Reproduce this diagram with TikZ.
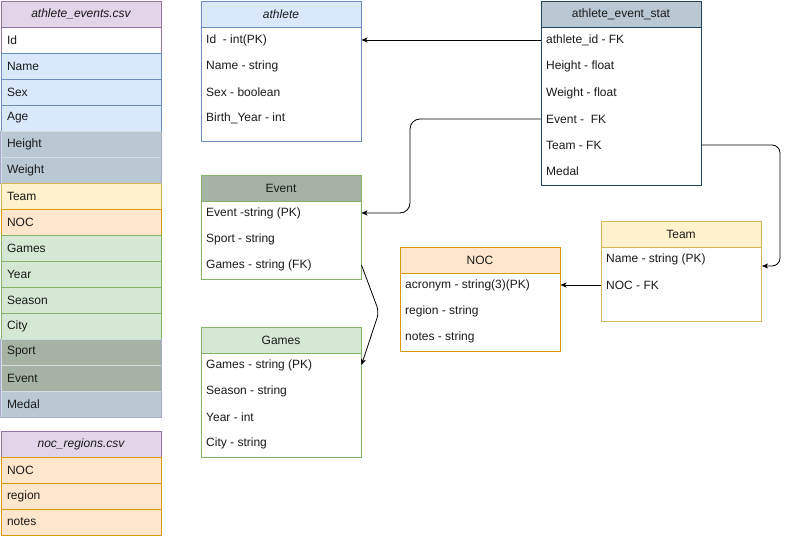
\documentclass[tikz,border=0pt]{standalone}
\usepackage{fontspec}
\setmainfont{Liberation Sans}
\usetikzlibrary{arrows.meta}

% palette
\definecolor{lilacF}{HTML}{E1D5E7}\definecolor{lilacS}{HTML}{9673A6}
\definecolor{blueF}{HTML}{DAE8FC}\definecolor{blueS}{HTML}{6C8EBF}
\definecolor{slateF}{HTML}{BAC8D3}\definecolor{slateS}{HTML}{23445D}
\definecolor{slateL}{HTML}{A9A9CC}\definecolor{sepL}{HTML}{D4DCE3}
\definecolor{sageF}{HTML}{A5B3A4}
\definecolor{yellowF}{HTML}{FFF2CC}\definecolor{yellowS}{HTML}{D6B656}
\definecolor{orangeF}{HTML}{FFE6CC}\definecolor{orangeS}{HTML}{D79B00}
\definecolor{greenF}{HTML}{D5E8D4}\definecolor{greenS}{HTML}{82B366}
\definecolor{ink}{HTML}{1A1A1A}

\begin{document}
\begin{tikzpicture}[x=1pt,y=-1pt,
  every node/.style={font=\fontsize{12}{14}\selectfont, text=ink},
  field/.style={draw, line width=1pt, anchor=north west, minimum width=160pt,
    minimum height=26pt, text width=148pt, inner xsep=6pt, inner ysep=0pt,
    align=left},
  head/.style={field, align=center},
  body/.style={draw, line width=1pt, anchor=north west, minimum width=160pt,
    fill=white, inner sep=0pt},
  entry/.style={anchor=west, inner sep=0pt},
  edge/.style={draw=slateL, line width=1pt},
  link/.style={draw=black, line width=0.8pt, -{Stealth[length=6pt,width=5pt,inset=1.5pt]}}]
\useasboundingbox (0,0) rectangle (789,538);

% ---------- athlete_events.csv ----------
\node[head, fill=lilacF, draw=lilacS, font=\fontsize{12}{14}\selectfont\itshape] (csvHead) at (0.5,0.5) {athlete\_events.csv};
\node[field, fill=white, draw=lilacS]   (csvId)     at (0.5,26.5)  {Id};
\node[field, fill=blueF, draw=blueS]    (csvName)   at (0.5,52.5)  {Name};
\node[field, fill=blueF, draw=blueS]    (csvSex)    at (0.5,78.5)  {Sex};
\node[field, fill=blueF, draw=blueS]    (csvAge)    at (0.5,104.5) {Age};
\node[field, fill=slateF, draw=sepL]    (csvHeight) at (0.5,130.5) {Height};
\node[field, fill=slateF, draw=sepL]    (csvWeight) at (0.5,156.5) {Weight};
\node[field, fill=yellowF, draw=yellowS](csvTeam)   at (0.5,182.5) {Team};
\node[field, fill=orangeF, draw=orangeS](csvNOC)    at (0.5,208.5) {NOC};
\node[field, fill=greenF, draw=greenS]  (csvGames)  at (0.5,234.5) {Games};
\node[field, fill=greenF, draw=greenS]  (csvYear)   at (0.5,260.5) {Year};
\node[field, fill=greenF, draw=greenS]  (csvSeason) at (0.5,286.5) {Season};
\node[field, fill=greenF, draw=greenS]  (csvCity)   at (0.5,312.5) {City};
\node[field, fill=sageF, draw=sepL]     (csvSport)  at (0.5,338.5) {Sport};
\node[field, fill=sageF, draw=sepL]     (csvEvent)  at (0.5,364.5) {Event};
\node[field, fill=slateF, draw=sepL]    (csvMedal)  at (0.5,390.5) {Medal};
% outer edges of the grey rows
\draw[edge] (csvHeight.north west) -- (csvWeight.south west)
            (csvHeight.north east) -- (csvWeight.south east);
\draw[edge] (csvSport.north west) -- (csvMedal.south west) -- (csvMedal.south east) -- (csvSport.north east);

% ---------- noc_regions.csv ----------
\node[head, fill=lilacF, draw=lilacS, font=\fontsize{12}{14}\selectfont\itshape] (regHead) at (0.5,430.5) {noc\_regions.csv};
\node[field, fill=orangeF, draw=orangeS] (regNOC)    at (0.5,456.5) {NOC};
\node[field, fill=orangeF, draw=orangeS] (regRegion) at (0.5,482.5) {region};
\node[field, fill=orangeF, draw=orangeS] (regNotes)  at (0.5,508.5) {notes};

% ---------- athlete ----------
\node[body, draw=blueS, minimum height=114pt] (athBody) at (200.5,26.5) {};
\node[head, fill=blueF, draw=blueS, font=\fontsize{12}{14}\selectfont\itshape] (athHead) at (200.5,0.5) {athlete};
\node[entry] (athId)    at (206,40)  {Id\ \ - int(PK)};
\node[entry] (athName)  at (206,66)  {Name - string};
\node[entry] (athSex)   at (206,92)  {Sex - boolean};
\node[entry] (athBirth) at (206,118) {Birth\_Year - int};

% ---------- Event ----------
\node[body, draw=greenS, minimum height=78pt] (evBody) at (200.5,200.5) {};
\node[head, fill=sageF, draw=greenS] (evHead) at (200.5,174.5) {Event};
\node[entry] (evEvent) at (206,213) {Event -string (PK)};
\node[entry] (evSport) at (206,239) {Sport - string};
\node[entry] (evGames) at (206,265) {Games - string (FK)};

% ---------- Games ----------
\node[body, draw=greenS, minimum height=104pt] (gmBody) at (200.5,352.5) {};
\node[head, fill=greenF, draw=greenS] (gmHead) at (200.5,326.5) {Games};
\node[entry] (gmGames)  at (206,365) {Games - string (PK)};
\node[entry] (gmSeason) at (206,391) {Season - string};
\node[entry] (gmYear)   at (206,417) {Year - int};
\node[entry] (gmCity)   at (206,443) {City - string};

% ---------- NOC ----------
\node[body, draw=orangeS, minimum height=78pt] (nocBody) at (399.5,272.5) {};
\node[head, fill=orangeF, draw=orangeS] (nocHead) at (399.5,246.5) {NOC};
\node[entry] (nocAcr)    at (405,285) {acronym - string(3)(PK)};
\node[entry] (nocRegion) at (405,311) {region - string};
\node[entry] (nocNotes)  at (405,337) {notes - string};

% ---------- athlete_event_stat ----------
\node[body, draw=slateS, minimum height=158pt] (stBody) at (540.5,26.5) {};
\node[head, fill=slateF, draw=slateS] (stHead) at (540.5,0.5) {athlete\_event\_stat};
\node[entry] (stAth)    at (546,40)  {athlete\_id - FK};
\node[entry] (stHeight) at (546,66)  {Height - float};
\node[entry] (stWeight) at (546,93)  {Weight - float};
\node[entry] (stEvent)  at (546,119) {Event -\ \ FK};
\node[entry] (stTeam)   at (546,145) {Team - FK};
\node[entry] (stMedal)  at (546,171) {Medal};

% ---------- Team ----------
\node[body, draw=yellowS, minimum height=74pt] (tmBody) at (600.5,246.5) {};
\node[head, fill=yellowF, draw=yellowS] (tmHead) at (600.5,220.5) {Team};
\node[entry] (tmName) at (606,259) {Name - string (PK)};
\node[entry] (tmNOC)  at (606,285) {NOC - FK};

% ---------- relations ----------
\coordinate (evBend) at (379,312);
\coordinate (tmIn) at (762,266);
\path[link] (stAth.west -| stBody.west) -- (athId.west -| athBody.east);
\path[link, rounded corners=10pt] (stEvent.west -| stBody.west) -- (410,119) -- (410,213) -- (evEvent.west -| evBody.east);
\path[link, rounded corners=8pt] (stTeam.west -| stBody.east) -- (780,145) -- (780,266) -- (tmIn);
\path[link] (tmNOC.west -| tmBody.west) -- (nocAcr.west -| nocBody.east);
\path[link, rounded corners=6pt] (evGames.west -| evBody.east) -- (evBend) -- (gmGames.west -| gmBody.east);
\end{tikzpicture}
\end{document}
